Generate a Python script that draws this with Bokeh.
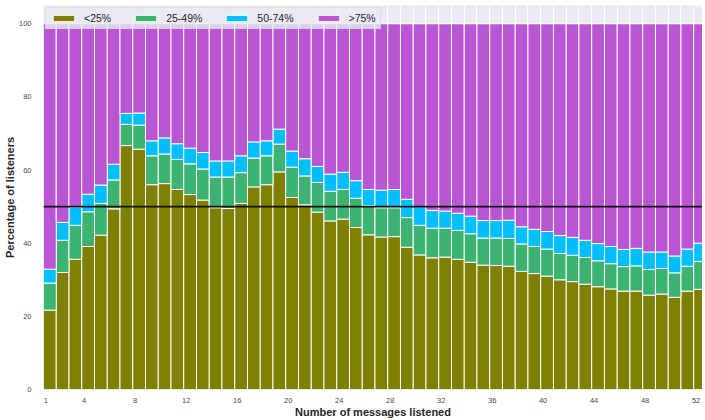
from bokeh.plotting import figure
from bokeh.models import ColumnDataSource, Range1d, FixedTicker, Span, Legend, LegendItem
from bokeh.transform import dodge
from bokeh.embed import file_html
from bokeh.resources import INLINE

# ---------------- data ----------------
messages = list(range(1, 53))
lt25 = [21.7, 32.0, 35.6, 39.1, 42.2, 49.4, 66.7, 65.7, 56.0, 56.3,
        54.7, 53.3, 51.8, 49.7, 49.5, 50.9, 55.4, 56.0, 59.5, 52.5,
        50.5, 48.5, 46.1, 46.6, 44.3, 42.3, 41.7, 41.8, 38.9, 36.8,
        36.0, 36.2, 35.6, 34.8, 34.0, 33.9, 33.7, 32.3, 31.7, 31.0,
        30.0, 29.5, 28.8, 28.1, 27.5, 26.9, 26.9, 25.8, 26.1, 25.2,
        26.9, 27.4]
p25_49 = [7.4, 8.8, 9.3, 9.5, 8.7, 7.9, 5.8, 6.6, 7.9, 8.1,
          8.2, 8.4, 8.5, 8.4, 8.6, 8.4, 7.9, 7.9, 7.6, 8.3,
          7.9, 8.1, 8.1, 8.1, 8.0, 8.0, 8.0, 7.9, 8.1, 8.1,
          8.1, 7.9, 7.9, 7.8, 7.4, 7.5, 7.6, 7.5, 7.4, 7.4,
          7.2, 7.2, 7.3, 7.1, 6.9, 6.7, 6.9, 7.0, 7.0, 6.7,
          6.8, 7.6]
p50_74 = [3.8, 4.9, 5.0, 4.8, 5.0, 4.3, 3.0, 3.3, 4.1, 4.4,
          4.3, 4.3, 4.5, 4.4, 4.4, 4.6, 4.4, 4.1, 4.1, 4.4,
          4.7, 4.4, 4.7, 4.7, 4.8, 4.4, 4.8, 5.0, 5.0, 5.1,
          4.9, 4.7, 4.7, 4.8, 4.8, 4.8, 5.0, 4.7, 4.7, 4.8,
          4.9, 4.9, 4.7, 4.7, 4.7, 4.7, 4.8, 4.8, 4.5, 4.6,
          4.7, 5.0]
gt75 = [67.1, 54.3, 50.1, 46.6, 44.1, 38.4, 24.5, 24.4, 32.0, 31.2,
        32.8, 34.0, 35.2, 37.5, 37.5, 36.1, 32.3, 32.0, 28.8, 34.8,
        36.9, 39.0, 41.1, 40.6, 42.9, 45.3, 45.5, 45.3, 48.0, 50.0,
        51.0, 51.2, 51.8, 52.6, 53.8, 53.8, 53.7, 55.5, 56.2, 56.8,
        57.9, 58.4, 59.2, 60.1, 60.9, 61.7, 61.4, 62.4, 62.4, 63.5,
        61.6, 60.0]
series_labels = ["<25%", "25-49%", "50-74%", ">75%"]
x_tick_values = [1, 4, 8, 12, 16, 20, 24, 28, 32, 36, 40, 44, 48, 52]
y_tick_values = [0, 20, 40, 60, 80, 100]
threshold = 50

# ---------------- style ----------------
COLORS = ["#808000", "#3CB371", "#00BFFF", "#BA55D3"]
BAR_SHIFT = 0.31
FONT = "Liberation Sans"

stackers = ["lt25", "p25_49", "p50_74", "gt75"]
src = ColumnDataSource(dict(msg=messages, lt25=lt25, p25_49=p25_49,
                            p50_74=p50_74, gt75=gt75))

p = figure(width=702, height=420, output_backend="svg", toolbar_location=None,
           x_range=Range1d(0.5 + BAR_SHIFT, 52.5), y_range=Range1d(0, 105),
           min_border_left=43, min_border_right=0, min_border_top=5,
           min_border_bottom=29, background_fill_color="#EAEAF2",
           border_fill_color="white", outline_line_color=None)

renderers = p.vbar_stack(stackers, x=dodge("msg", BAR_SHIFT, range=p.x_range),
                         width=1, fill_color=COLORS, line_color="white",
                         line_width=1, source=src)

p.add_layout(Span(location=threshold, dimension="width",
                  line_color="#111111", line_width=1.6))

# grids
p.xgrid.ticker = FixedTicker(ticks=[m + 0.5 + BAR_SHIFT for m in messages[:-1]])
p.xgrid.grid_line_color = "white"
p.xgrid.grid_line_width = 1
p.ygrid.ticker = FixedTicker(ticks=y_tick_values)
p.ygrid.grid_line_color = "white"

# axes
p.xaxis.ticker = FixedTicker(ticks=x_tick_values)
p.yaxis.ticker = FixedTicker(ticks=y_tick_values)
for ax in (p.xaxis[0], p.yaxis[0]):
    ax.axis_line_color = None
    ax.major_tick_line_color = None
    ax.minor_tick_line_color = None
    ax.major_tick_out = 0
    ax.major_tick_in = 0
    ax.major_label_text_font = FONT
    ax.major_label_text_font_size = "7.5px"
    ax.major_label_text_color = "#4a4a4a"
    ax.axis_label_text_font = FONT
    ax.axis_label_text_font_size = "11px"
    ax.axis_label_text_font_style = "bold"
    ax.axis_label_text_color = "#262626"
p.xaxis.axis_label = "Number of messages listened"
p.yaxis.axis_label = "Percentage of listeners"
p.xaxis.major_label_standoff = 8
p.xaxis.axis_label_standoff = 0
p.yaxis.major_label_standoff = 12
p.yaxis.axis_label_standoff = 0

legend = Legend(items=[LegendItem(label=l, renderers=[r])
                       for l, r in zip(series_labels, renderers)],
                orientation="horizontal", location="top_left", margin=2,
                padding=4, spacing=21, glyph_width=27, glyph_height=8,
                label_standoff=7, label_height=11, label_width=0,
                label_text_font=FONT, label_text_font_size="10.5px",
                label_text_color="#262626",
                background_fill_color="#EAEAF2", background_fill_alpha=0.8,
                border_line_color="#D0D0DA", border_line_width=1)
p.add_layout(legend)

open("out.html", "w").write(file_html(p, INLINE))
